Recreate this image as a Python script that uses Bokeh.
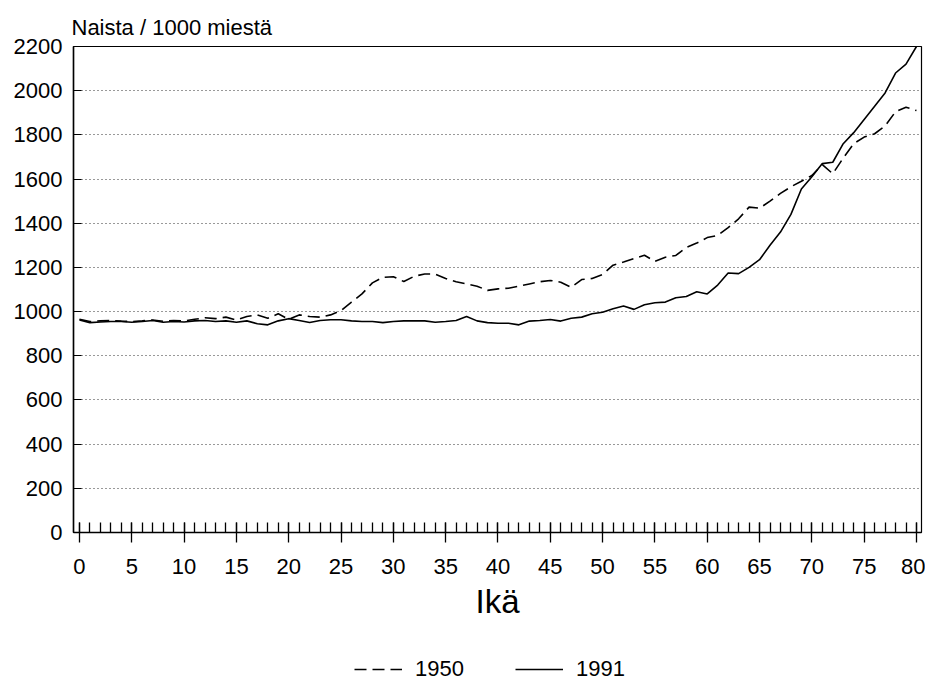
from bokeh.plotting import figure
from bokeh.models import Range1d, Legend, LegendItem, FixedTicker, ColumnDataSource
from bokeh.layouts import column
from bokeh.embed import file_html
from bokeh.resources import INLINE

ages = list(range(0, 81))
y1950 = [965, 955, 958, 960, 957, 955, 958, 962, 956, 960,
         958, 965, 972, 968, 975, 962, 978, 985, 970, 990,
         965, 985, 978, 975, 985, 1005, 1043, 1080, 1130, 1155,
         1158, 1136, 1160, 1170, 1170, 1150, 1135, 1125, 1115, 1096,
         1103, 1106, 1115, 1125, 1135, 1141, 1133, 1110, 1145, 1150,
         1168, 1210, 1224, 1240, 1255, 1227, 1246, 1254, 1290, 1310,
         1335, 1345, 1380, 1420, 1473, 1468, 1500, 1535, 1565, 1590,
         1616, 1665, 1624, 1695, 1760, 1790, 1805, 1840, 1905, 1925,
         1910]
y1991 = [962, 950, 953, 955, 955, 952, 955, 960, 952, 955,
         953, 958, 960, 955, 958, 952, 958, 945, 940, 958,
         968, 960, 951, 960, 963, 963, 958, 955, 955, 950,
         955, 958, 958, 958, 952, 955, 960, 978, 958, 950,
         947, 947, 940, 957, 960, 964, 957, 970, 975, 990,
         997, 1013, 1025, 1010, 1031, 1040, 1043, 1063, 1068, 1090,
         1080, 1120, 1175, 1172, 1200, 1235, 1300, 1360, 1440, 1555,
         1610, 1670, 1676, 1760, 1810, 1870, 1930, 1990, 2080, 2120,
         2200]
series_names = ["1950", "1991"]
x_ticks = list(range(0, 81, 5))
y_ticks = list(range(0, 2201, 200))

FONT = "Liberation Sans"
DASH_1950 = "12 6"

p = figure(width=925, height=642, output_backend="svg", toolbar_location=None,
           x_range=Range1d(-0.57, 80.48), y_range=Range1d(0, 2200),
           min_border_left=73, min_border_right=4, min_border_top=46,
           min_border_bottom=110)
p.frame_width = 848
p.frame_height = 486

p.title.text = "Naista / 1000 miestä"
p.title.text_font = FONT
p.title.text_font_size = "22px"
p.title.text_font_style = "normal"
p.title.text_color = "black"
p.title.align = "left"
p.title.standoff = 14
p.title.offset = -2

p.outline_line_color = "black"
p.outline_line_width = 1.2
p.background_fill_color = "white"
p.border_fill_color = "white"

# x axis
xa = p.xaxis[0]
xa.ticker = FixedTicker(ticks=x_ticks, minor_ticks=ages)
xa.axis_label = "Ikä"
xa.axis_label_text_font = FONT
xa.axis_label_text_font_size = "33px"
xa.axis_label_text_font_style = "normal"
xa.axis_label_text_color = "black"
xa.axis_label_standoff = 6
xa.major_label_text_font = FONT
xa.major_label_text_font_size = "22px"
xa.major_label_text_color = "black"
xa.major_label_standoff = 16
xa.major_tick_in = 10
xa.major_tick_out = 10
xa.minor_tick_in = 10
xa.minor_tick_out = 0
xa.axis_line_color = "black"
xa.axis_line_width = 1.5
xa.major_tick_line_color = "black"
xa.major_tick_line_width = 1.3
xa.minor_tick_line_color = "black"
xa.minor_tick_line_width = 1.3

# y axis
ya = p.yaxis[0]
ya.ticker = FixedTicker(ticks=y_ticks)
ya.major_label_text_font = FONT
ya.major_label_text_font_size = "22px"
ya.major_label_text_color = "black"
ya.major_label_standoff = 11
ya.major_tick_in = 8
ya.major_tick_out = 0
ya.minor_tick_in = 0
ya.minor_tick_out = 0
ya.axis_line_color = "black"
ya.axis_line_width = 1.5
ya.major_tick_line_color = "black"
ya.major_tick_line_width = 1.2

p.xgrid.grid_line_color = None
p.ygrid.ticker = FixedTicker(ticks=y_ticks[1:-1])
p.ygrid.grid_line_color = "#333333"
p.ygrid.grid_line_dash = "1 3"
p.ygrid.grid_line_width = 1.2

src = ColumnDataSource(dict(age=ages, a=y1950, b=y1991))
p.line("age", "a", source=src, line_color="black", line_width=1.6,
       line_dash=DASH_1950)
p.line("age", "b", source=src, line_color="black", line_width=1.6)

# legend strip below the chart (its data lies outside its ranges, so only
# the legend itself is visible)
lg = figure(width=925, height=40, output_backend="svg", toolbar_location=None,
            x_range=Range1d(-2, -1), y_range=Range1d(-2, -1),
            min_border_left=0, min_border_right=0, min_border_top=0,
            min_border_bottom=0)
lg.axis.visible = False
lg.grid.visible = False
lg.outline_line_color = None
lg.background_fill_color = "white"
lg.border_fill_color = "white"
l1 = lg.line("age", "a", source=src, line_color="black", line_width=1.6,
             line_dash=DASH_1950)
l2 = lg.line("age", "b", source=src, line_color="black", line_width=1.6)

legend = Legend(items=[LegendItem(label=series_names[0], renderers=[l1]),
                       LegendItem(label=series_names[1], renderers=[l2])],
                location=(281, 0), orientation="horizontal",
                glyph_width=48, glyph_height=22, label_height=22,
                label_standoff=13, spacing=51, padding=0, margin=0,
                border_line_color=None, background_fill_alpha=0,
                label_text_font=FONT, label_text_font_size="22px",
                label_text_color="black")
lg.add_layout(legend, "center")

layout = column(p, lg, spacing=0)
open("out.html", "w").write(file_html(layout, INLINE))
